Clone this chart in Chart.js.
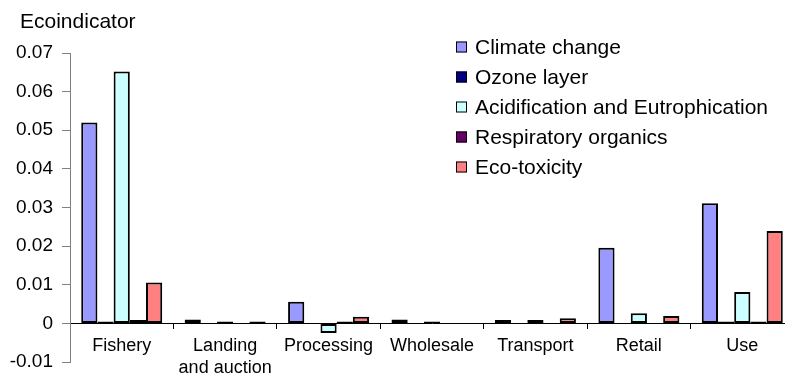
<!DOCTYPE html>
<html>
<head>
<meta charset="utf-8">
<script src="https://cdn.jsdelivr.net/npm/chart.js@4"></script>
<style>
  html, body { margin: 0; padding: 0; background: #fff; overflow: hidden; }
  #wrap { width: 800px; height: 376px; }
</style>
</head>
<body>
<div id="wrap"><canvas id="chart" width="800" height="376"></canvas></div>
<script>
var stages = ["Fishery", ["Landing", "and auction"], "Processing", "Wholesale", "Transport", "Retail", "Use"];

var climateChange = [0.052, 0.001, 0.0056, 0.001, 0.0009, 0.0196, 0.0311];
var ozoneLayer = [0.0005, null, null, null, null, null, 0.0005];
var acidification = [0.0652, 0.0005, -0.0025, 0.0005, 0.0009, 0.0026, 0.0081];
var respiratory = [0.0009, null, 0.0005, null, null, null, 0.0005];
var ecoToxicity = [0.0106, 0.0005, 0.0017, null, 0.0013, 0.0019, 0.0239];

var yMin = -0.01;
var yMax = 0.07;
var yStep = 0.01;

var FONT = "'Liberation Sans', Arial, sans-serif";

function series(label, data, color) {
  return {
    label: label,
    data: data,
    backgroundColor: color,
    borderColor: "#000",
    borderWidth: 2,
    borderSkipped: false,
  };
}

// title and legend are drawn by hand at fixed spots
const sideText = {
  id: "sideText",
  afterDraw(chart) {
    const ctx = chart.ctx;
    ctx.save();
    ctx.fillStyle = "#000";
    ctx.textBaseline = "middle";
    ctx.textAlign = "left";
    ctx.font = "21px " + FONT;
    ctx.fillText("Ecoindicator", 20, 22);

    chart.data.datasets.forEach((ds, i) => {
      const y = 47 + i * 30;
      ctx.fillStyle = ds.backgroundColor;
      ctx.fillRect(456, y - 5.5, 11, 11);
      ctx.strokeStyle = "#000";
      ctx.lineWidth = 1;
      ctx.strokeRect(456.5, y - 5, 10, 10);
      ctx.fillStyle = "#000";
      ctx.font = "21px " + FONT;
      ctx.fillText(ds.label, 475, y + 1);
    });
    ctx.restore();
  },
};

const ctx = document.getElementById("chart").getContext("2d");
const ecoChart = new Chart(ctx, {
  type: "bar",
  data: {
    labels: stages,
    datasets: [
      series("Climate change", climateChange, "#9999FF"),
      series("Ozone layer", ozoneLayer, "#000080"),
      series("Acidification and Eutrophication", acidification, "#CCFFFF"),
      series("Respiratory organics", respiratory, "#660066"),
      series("Eco-toxicity", ecoToxicity, "#FF8080"),
    ],
  },
  options: {
    responsive: false,
    animation: false,
    devicePixelRatio: 1,
    layout: { padding: { left: 0, top: 53, right: 6, bottom: 14 } },
    datasets: {
      bar: { categoryPercentage: 0.783, barPercentage: 1.0 },
    },
    plugins: {
      legend: { display: false },
      title: { display: false },
      tooltip: { enabled: false },
    },
    scales: {
      x: {
        position: { y: 0 },
        grid: {
          offset: true,
          drawOnChartArea: false,
          drawTicks: true,
          tickLength: 5,
          color: "#000",
          lineWidth: 1,
        },
        border: { display: true, color: "#000", width: 1 },
        ticks: {
          color: "#000",
          padding: 7,
          maxRotation: 0,
          autoSkip: false,
          font: { family: FONT, size: 18, lineHeight: 1.2 },
        },
        afterFit(scale) {
          scale.paddingTop = 0;
          scale.paddingBottom = 0;
        },
      },
      y: {
        min: yMin,
        max: yMax,
        grid: {
          drawOnChartArea: false,
          drawTicks: true,
          tickLength: 8,
          color: "#808080",
        },
        border: { display: true, color: "#808080", width: 1 },
        ticks: {
          stepSize: yStep,
          color: "#000",
          padding: 9,
          font: { family: FONT, size: 19 },
        },
        afterFit(scale) {
          scale.width = 70;
          scale.paddingTop = 0;
          scale.paddingBottom = 0;
        },
      },
    },
  },
  plugins: [sideText],
});
</script>
</body>
</html>
